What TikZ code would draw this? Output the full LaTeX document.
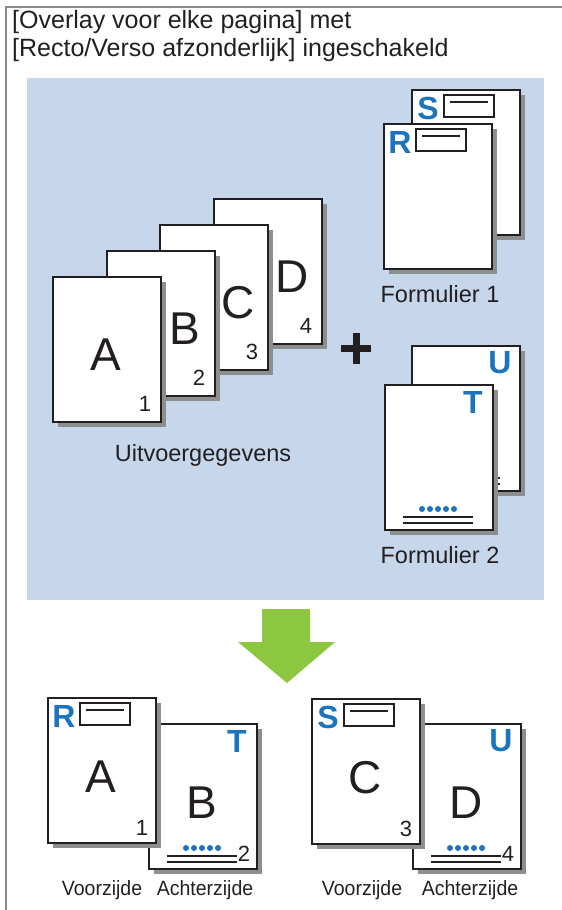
\documentclass[tikz,border=0pt]{standalone}
\usepackage{fontspec}
\setmainfont{Liberation Sans}
\usetikzlibrary{calc,shadows}
\definecolor{panelblue}{HTML}{C6D7EC}
\definecolor{frameg}{HTML}{8A8A8A}
\definecolor{shadowg}{HTML}{8C8E90}
\definecolor{inkk}{HTML}{231F20}
\definecolor{formblue}{HTML}{1C75BC}
\definecolor{arrowgreen}{HTML}{8DC63F}
\tikzset{
  pagebox/.style={draw=inkk, fill=white, line width=1.5pt, minimum width=108pt, minimum height=145pt,
    anchor=north west, inner sep=0pt,
    drop shadow={shadow xshift=5pt, shadow yshift=-5pt, fill=shadowg, opacity=1}},
  bigletter/.style={font=\fontsize{46}{46}\selectfont, text=inkk, inner sep=0pt},
  pagenum/.style={font=\fontsize{22}{22}\selectfont, text=inkk, inner sep=0pt},
  formletter/.style={font=\bfseries\fontsize{32}{32}\selectfont, text=formblue, inner sep=0pt},
  label/.style={font=\fontsize{23.5}{23.5}\selectfont, text=inkk, inner sep=0pt},
  sidelabel/.style={font=\fontsize{19.5}{19.5}\selectfont, text=inkk, inner sep=0pt, yscale=1.06},
  titletext/.style={font=\fontsize{25}{25}\selectfont, text=inkk, inner sep=0pt, anchor=base west},
  dot/.style={circle, fill=formblue, minimum size=6pt, inner sep=0pt},
  rule/.style={draw=inkk, line width=1.3pt},
}
\newcommand\boxform[2]{% page name, letter
  \node[formletter] at ($(#1.north west)+(17,19)$) {#2};
  \draw[rule] ($(#1.north west)+(33,6)$) rectangle ($(#1.north west)+(83,28)$);
  \draw[rule] ($(#1.north west)+(39,13)$) -- ($(#1.north west)+(77,13)$);
}
\newcommand\lineform[2]{% page name, letter
  \node[formletter] at ($(#1.north west)+(89,18)$) {#2};
  \foreach \k in {0,...,4}{\node[dot] at ($(#1.north west)+(38+8*\k,125)$) {};}
  \draw[rule] ($(#1.north west)+(19,133)$) -- ($(#1.north west)+(89,133)$);
  \draw[rule] ($(#1.north west)+(19,139)$) -- ($(#1.north west)+(89,139)$);
}
\begin{document}
\begin{tikzpicture}[x=1pt,y=-1pt]
\useasboundingbox (0,0) rectangle (562,910);
% frame
\draw[frameg, line width=2pt] (6,910) -- (6,7) -- (562,7);
% title
\node[titletext] (t1) at (12,28) {[Overlay voor elke pagina] met};
\node[titletext] (t2) at (12,56) {[Recto/Verso afzonderlijk] ingeschakeld};
% panel
\fill[panelblue] (27,78) rectangle (544,600);
% output data stack
\node[pagebox] (pD) at (213,198) {};
\node[bigletter] at ($(pD.north west)+(79,79)$) {D};
\node[pagenum] at ($(pD.north west)+(93,128)$) {4};
\node[pagebox] (pC) at (159,224) {};
\node[bigletter] at ($(pC.north west)+(79,79)$) {C};
\node[pagenum] at ($(pC.north west)+(93,128)$) {3};
\node[pagebox] (pB) at (106,250) {};
\node[bigletter] at ($(pB.north west)+(79,79)$) {B};
\node[pagenum] at ($(pB.north west)+(93,128)$) {2};
\node[pagebox] (pA) at (52,276) {};
\node[bigletter] at ($(pA.north west)+(54,79)$) {A};
\node[pagenum] at ($(pA.north west)+(93,128)$) {1};
\node[label] (lout) at (203,455) {Uitvoergegevens};
% plus
\fill[inkk] (341,345) rectangle (371,352);
\fill[inkk] (352.5,333) rectangle (359.5,364);
% form 1
\node[pagebox] (pS) at (411,89) {};
\boxform{pS}{S}
\node[pagebox] (pR) at (383,123) {};
\boxform{pR}{R}
\node[label] (lf1) at (440,294) {Formulier 1};
% form 2
\node[pagebox] (pU) at (411,345) {};
\lineform{pU}{U}
\node[pagebox] (pT) at (384,384) {};
\lineform{pT}{T}
\node[label] (lf2) at (440,555) {Formulier 2};
% arrow
\fill[arrowgreen] (262,609) -- (310,609) -- (310,642) -- (335,642) -- (287,683) -- (238,642) -- (262,642) -- cycle;
% result left pair
\node[pagebox] (rB) at (148,723) {};
\lineform{rB}{T}
\node[bigletter] at ($(rB.north west)+(54,80)$) {B};
\node[pagenum] at ($(rB.north west)+(96,131)$) {2};
\node[pagebox] (rA) at (47,697) {};
\boxform{rA}{R}
\node[bigletter] at ($(rA.north west)+(54,80)$) {A};
\node[pagenum] at ($(rA.north west)+(95,131)$) {1};
\node[sidelabel] (v1) at (102,890) {Voorzijde};
\node[sidelabel] (a1) at (205,890) {Achterzijde};
% result right pair
\node[pagebox] (rD) at (412,723) {};
\lineform{rD}{U}
\node[bigletter] at ($(rD.north west)+(54,80)$) {D};
\node[pagenum] at ($(rD.north west)+(96,131)$) {4};
\node[pagebox] (rC) at (311,698) {};
\boxform{rC}{S}
\node[bigletter] at ($(rC.north west)+(54,80)$) {C};
\node[pagenum] at ($(rC.north west)+(95,131)$) {3};
\node[sidelabel] (v2) at (362,890) {Voorzijde};
\node[sidelabel] (a2) at (470,890) {Achterzijde};
\end{tikzpicture}
\end{document}
